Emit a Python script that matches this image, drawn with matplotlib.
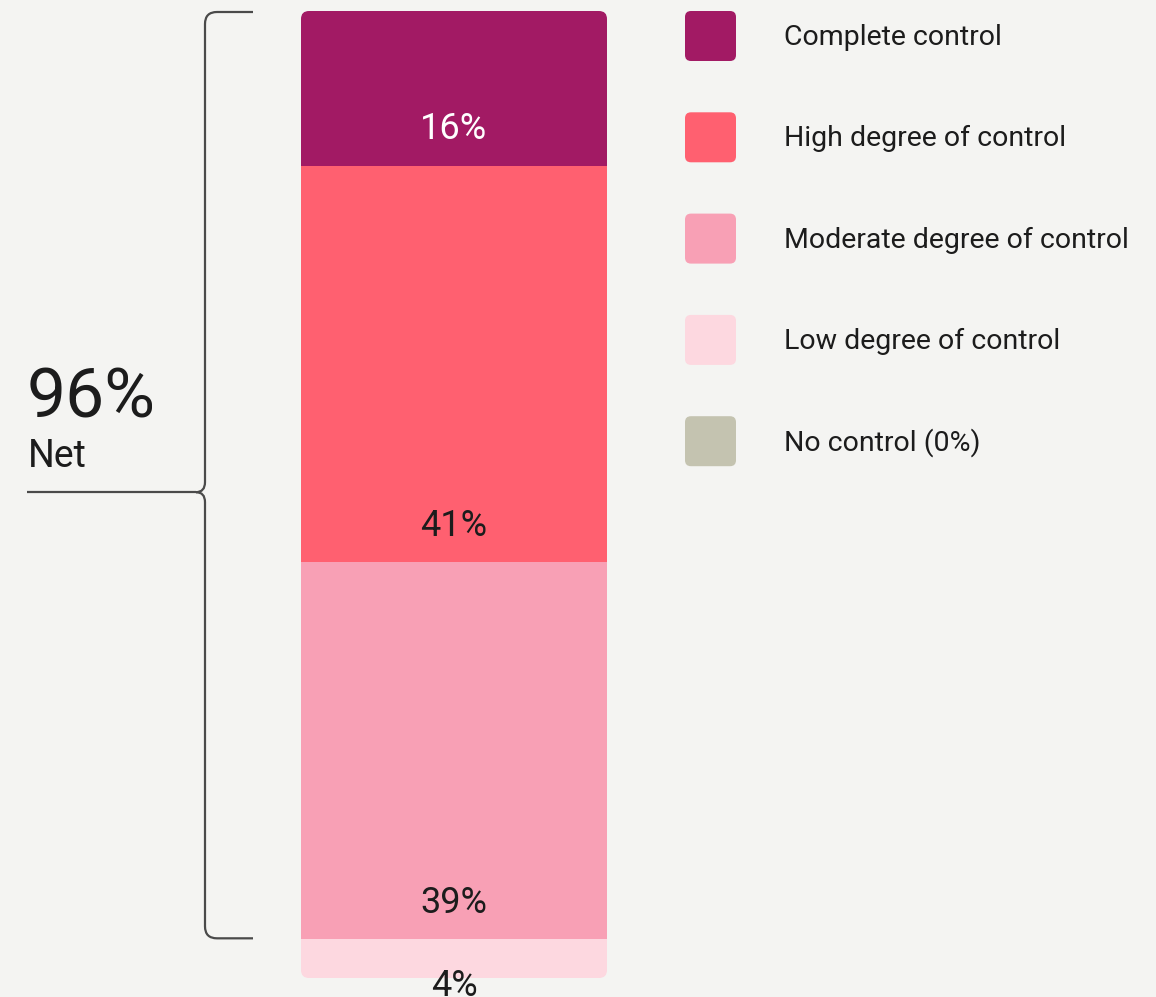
import numpy as np
import matplotlib.pyplot as plt
from matplotlib.patches import FancyBboxPatch, PathPatch
from matplotlib.path import Path

plt.rcParams['font.family'] = ['Roboto', 'DejaVu Sans']

categories = ["Complete control", "High degree of control", "Moderate degree of control",
              "Low degree of control", "No control (0%)"]
shares = [16, 41, 39, 4, 0]
colors = ["#A21A64", "#FF6070", "#F8A0B5", "#FDD8E0", "#C4C3B0"]
value_colors = ["white", "#1c1c1c", "#1c1c1c", "#1c1c1c", "#1c1c1c"]
net_share = sum(shares[:3])

W, H = 1156, 997
bg = "#F4F4F2"
ink = "#1c1c1c"
line = "#4a4a4a"

fig = plt.figure(figsize=(W / 100, H / 100), dpi=100, facecolor=bg)

# pixel-space layer for bracket, headline and legend
ov = fig.add_axes([0, 0, 1, 1])
ov.set_xlim(0, W)
ov.set_ylim(H, 0)
ov.axis('off')

# stacked single bar
ax = fig.add_axes([301 / W, 1 - 978 / H, 306 / W, 967 / H])
ax.set_xlim(-0.5, 0.5)
ax.set_ylim(100, 0)
ax.axis('off')

starts = np.cumsum([0] + shares[:-1])
ends = starts + np.array(shares)
bars = ax.bar([0] * len(shares), shares, bottom=starts, width=1, color=colors, linewidth=0)

to_px = lambda x, y: ov.transData.inverted().transform(ax.transData.transform((x, y)))
x0, y0 = to_px(-0.5, 0)
x1, y1 = to_px(0.5, sum(shares))
clip = FancyBboxPatch((x0, y0), x1 - x0, y1 - y0, boxstyle="round,pad=0,rounding_size=8",
                      transform=ov.transData, facecolor='none', edgecolor='none')
for b in bars:
    b.set_clip_path(clip)

for s, e, v, c in zip(starts, ends, shares, value_colors):
    if v == 0:
        continue
    yc = max(e - 4.1, s + 4.5)
    ax.text(0, yc + 1.35, f"{v}%", ha='center', va='baseline', fontsize=26,
            color=c, clip_on=False)

# curly bracket around the net share
_, top = to_px(0, 0)
_, bot = to_px(0, net_share)
top += 1
bot -= 1
tip = (top + bot) / 2 + 17
xv, xarm, r = 205, 253, 12
verts = [(xarm, top), (xv + r, top), (xv, top), (xv, top + r),
         (xv, tip - 10), (xv, tip), (xv - 9, tip), (xv, tip), (xv, tip + 10),
         (xv, bot - r), (xv, bot), (xv + r, bot), (xarm, bot)]
codes = [Path.MOVETO, Path.LINETO, Path.CURVE3, Path.CURVE3,
         Path.LINETO, Path.CURVE3, Path.CURVE3, Path.CURVE3, Path.CURVE3,
         Path.LINETO, Path.CURVE3, Path.CURVE3, Path.LINETO]
ov.add_patch(PathPatch(Path(verts, codes), facecolor='none', edgecolor=line,
                       linewidth=1.6, capstyle='butt'))
ov.plot([27, xv - 9], [tip, tip], color=line, linewidth=1.6, solid_capstyle='butt')

ov.text(27, 417, f"{net_share}%", fontsize=50, color=ink, va='baseline')
ov.text(28, 467, "Net", fontsize=27, color=ink, va='baseline')

# legend
for i, (name, c) in enumerate(zip(categories, colors)):
    ty = 11 + i * 101.3
    ov.add_patch(FancyBboxPatch((685, ty), 51, 50, boxstyle="round,pad=0,rounding_size=6",
                                facecolor=c, edgecolor='none'))
    ov.text(784, ty + 34, name, fontsize=20.5, color=ink, va='baseline')

fig.savefig('out.png', dpi=100, facecolor=bg)
